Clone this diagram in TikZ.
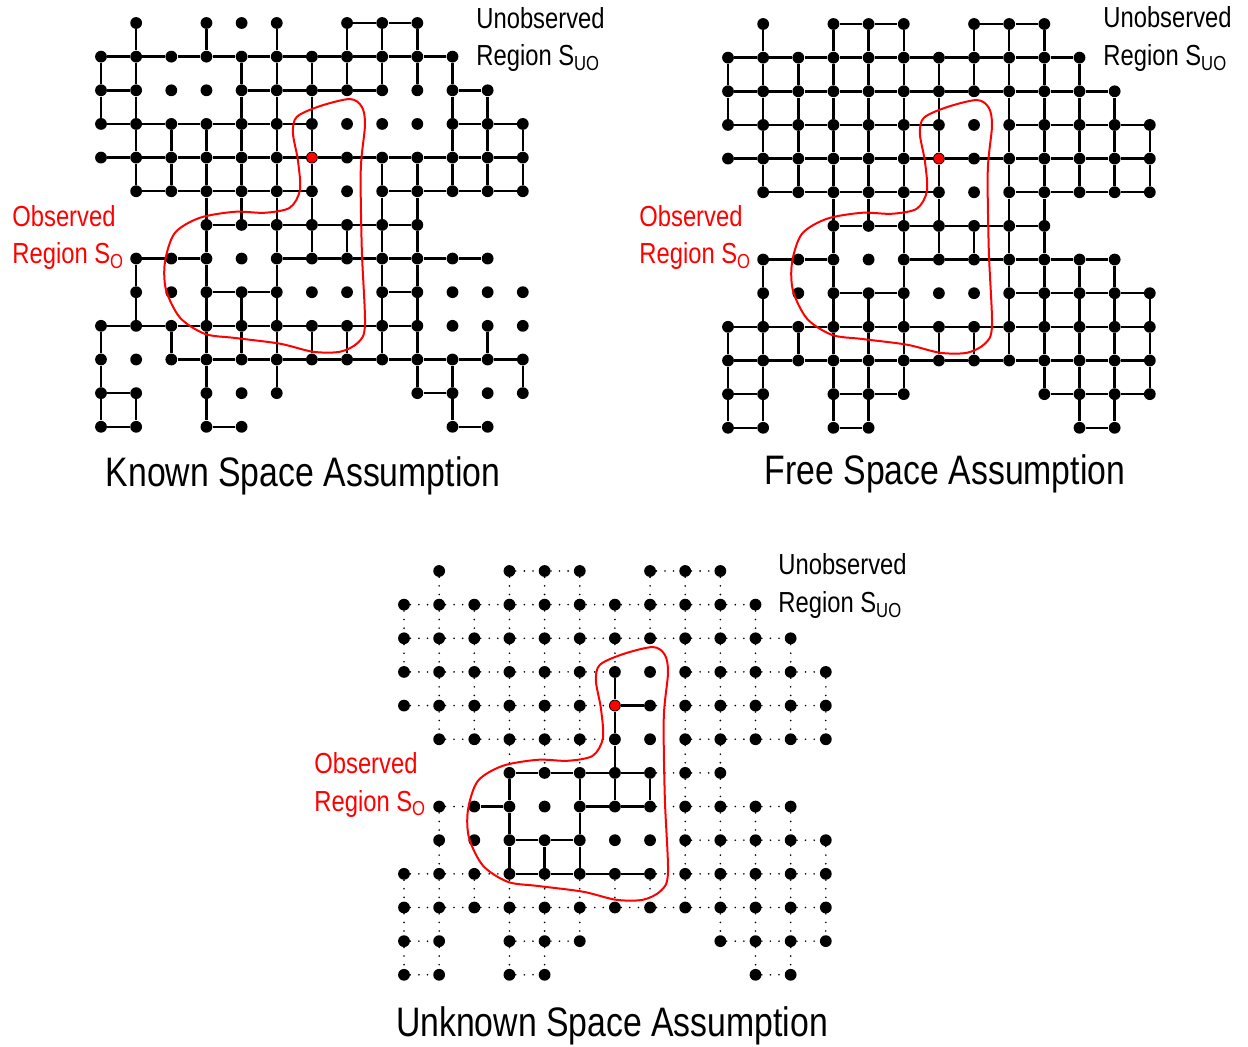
\documentclass[tikz,border=0pt]{standalone}
\usepackage{fontspec}
\setmainfont{Liberation Sans}[FakeStretch=0.82]
\usetikzlibrary{positioning}

\tikzset{
  vtx/.style={circle, fill=black, inner sep=0pt, minimum size=5.9pt},
  seen/.style={circle, fill=red, inner sep=0pt, minimum size=5.2pt},
  link/.style={line width=1.25pt},
  maybe/.style={line width=0.9pt, line cap=round, dash pattern=on 0pt off 4.3pt},
  region/.style={red, line width=1pt},
  lbl/.style={anchor=base west, inner sep=0pt, font=\fontsize{14.5}{17}\selectfont},
  title/.style={anchor=base, inner sep=0pt, font=\fontsize{20.6}{25}\selectfont}
}

% all grid points, same in every panel: #1 prefix, #2/#3 first point
\newcommand{\gridnodes}[3]{%
  \foreach \r/\cols in {0/{1,3,4,5,7,8,9}, 1/{0,...,10}, 2/{0,...,11}, 3/{0,...,12},
      4/{0,...,12}, 5/{1,...,12}, 6/{3,...,9}, 7/{1,...,11}, 8/{1,...,12},
      9/{0,...,12}, 10/{0,...,12}, 11/{0,1,3,4,5,9,10,11,12}, 12/{0,1,3,4,10,11}}
    \foreach \c in \cols
      \node[vtx] (#1-\c-\r) at ({#2+35.15*\c},{#3+33.65*\r}) {};
}
% links to the right / downwards: #1 style, #2 prefix, #3 list row/{cols}
\newcommand{\hlinks}[3]{%
  \foreach \r/\cols in #3
    \foreach \c in \cols {
      \pgfmathtruncatemacro{\n}{\c+1}
      \draw[#1] (#2-\c-\r) -- (#2-\n-\r);
    }
}
\newcommand{\vlinks}[3]{%
  \foreach \c/\rows in #3
    \foreach \r in \rows {
      \pgfmathtruncatemacro{\n}{\r+1}
      \draw[#1] (#2-\c-\r) -- (#2-\c-\n);
    }
}
% observed region outline
\newcommand{\observed}[2]{%
  \begin{scope}[shift={(#1,#2)}, xscale=35.15, yscale=33.65]
    \draw[region] plot[smooth cycle] coordinates {(5.57,2.79) (6.23,2.47) (7.08,2.26)
      (7.42,2.49) (7.51,3.03) (7.39,4.37) (7.42,6.74) (7.51,8.97) (7.31,9.50)
      (6.80,9.77) (6.03,9.77) (5.09,9.53) (3.81,9.36) (2.96,9.24) (2.25,8.76)
      (1.85,7.93) (1.82,7.10) (2.10,6.24) (2.81,5.79) (3.81,5.61) (4.66,5.64)
      (5.37,5.49) (5.66,4.96) (5.60,4.07) (5.46,3.27)};
  \end{scope}
}

% known edges (row/{cols})
\def\knownH{0/{7,8}, 1/{0,...,9}, 2/{0,4,5,6,7,10}, 3/{0,1,2,3,4,5,10,11}, 4/{0,...,11},
  5/{1,2,3,4,5,8,9,10,11}, 6/{3,...,8}, 7/{1,2,5,6,7,8,9,10}, 8/{3,4,8}, 9/{0,...,8},
  10/{2,...,11}, 11/{0,9}, 12/{0,3,10}}
% known edges (col/{rows})
\def\knownV{0/{1,2,9,10,11}, 1/{0,1,2,3,4,7,8,11}, 2/{3,4,9}, 3/{0,3,4,5,6,7,8,9,10,11},
  4/{1,2,3,4,5,8,9}, 5/{0,1,2,3,4,5,6,7,8,9,10}, 6/{1,2,3,4,5,6,9}, 7/{0,1,6,9},
  8/{0,1,4,5,6,7,8,9}, 9/{0,1,4,5,6,7,8,9,10}, 10/{1,2,3,4,10,11}, 11/{2,3,4,9},
  12/{3,4,10}}
% edges outside the observed region (row/{cols}, col/{rows})
\def\guessH{0/{3,4,7,8}, 1/{0,...,9}, 2/{0,...,10}, 3/{0,1,2,3,4,5,8,9,10,11},
  4/{0,1,2,3,4,5,7,8,9,10,11}, 5/{1,2,3,4,5,8,9,10,11}, 6/{7,8}, 7/{1,7,8,9,10},
  8/{8,9,10,11}, 9/{0,1,2,7,8,9,10,11}, 10/{0,...,11}, 11/{0,3,4,9,10,11}, 12/{0,3,10}}
\def\guessV{0/{1,2,9,10,11}, 1/{0,1,2,3,4,7,8,9,10,11}, 2/{1,2,3,4,9},
  3/{0,1,2,3,4,5,9,10,11}, 4/{0,1,2,3,4,5,9,10,11}, 5/{0,1,2,3,4,5,9,10},
  6/{1,2,9}, 7/{0,1,9}, 8/{0,1,2,3,4,5,6,7,8,9}, 9/{0,1,2,3,4,5,6,7,8,9,10},
  10/{1,2,3,4,7,8,9,10,11}, 11/{2,3,4,7,8,9,10,11}, 12/{3,4,8,9,10}}
% edges inside the observed region
\def\seenH{4/{6}, 6/{3,4,5,6}, 7/{2,5,6}, 8/{3,4}, 9/{3,4,5,6}}
\def\seenV{3/{6,7,8}, 4/{8}, 5/{6,7,8}, 6/{3,4,5,6}, 7/{6}}

\begin{document}
\begin{tikzpicture}[x=0.5pt, y=-0.5pt]
\useasboundingbox (0,0) rectangle (1248,1047);

% Known space
\gridnodes{k}{101}{23}
\hlinks{link}{k}{\knownH}
\vlinks{link}{k}{\knownV}
\node[seen] (k-red) at (k-6-4) {};
\observed{101}{23}
\node[lbl] (k-uo) at (476,29) {Unobserved};
\node[lbl] (k-uo2) at (476,66) {Region S\textsubscript{UO}};
\node[lbl, red] (k-o) at (12,227) {Observed};
\node[lbl, red] (k-o2) at (12,264) {Region S\textsubscript{O}};
\node[title] (k-title) at (303,487) {Known Space Assumption};

% Free space
\gridnodes{f}{728}{24}
\hlinks{link}{f}{\guessH}
\vlinks{link}{f}{\guessV}
\hlinks{link}{f}{\seenH}
\vlinks{link}{f}{\seenV}
\node[seen] (f-red) at (f-6-4) {};
\observed{728}{24}
\node[lbl] (f-uo) at (1103,28) {Unobserved};
\node[lbl] (f-uo2) at (1103,66) {Region S\textsubscript{UO}};
\node[lbl, red] (f-o) at (639,227) {Observed};
\node[lbl, red] (f-o2) at (639,264) {Region S\textsubscript{O}};
\node[title] (f-title) at (945,485) {Free Space Assumption};

% Unknown space
\gridnodes{u}{404}{571}
\hlinks{maybe}{u}{\guessH}
\vlinks{maybe}{u}{\guessV}
\hlinks{link}{u}{\seenH}
\vlinks{link}{u}{\seenV}
\node[seen] (u-red) at (u-6-4) {};
\observed{404}{571}
\node[lbl] (u-uo) at (778,575) {Unobserved};
\node[lbl] (u-uo2) at (778,613) {Region S\textsubscript{UO}};
\node[lbl, red] (u-o) at (314,773) {Observed};
\node[lbl, red] (u-o2) at (314,811) {Region S\textsubscript{O}};
\node[title] (u-title) at (612,1036) {Unknown Space Assumption};
\end{tikzpicture}
\end{document}
